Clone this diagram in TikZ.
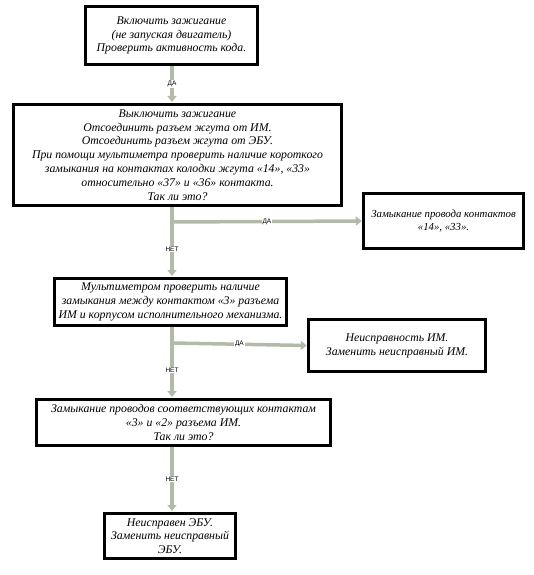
\documentclass[tikz,border=0pt]{standalone}
\usepackage{fontspec}
\setmainfont{Liberation Serif}
\newfontfamily\lblfont{Liberation Sans}
\usetikzlibrary{arrows.meta}
\definecolor{conn}{RGB}{178,186,170}
\tikzset{
  box/.style={draw=black, line width=3.5pt, fill=white, align=center,
    font=\fontsize{11.8}{13.8}\selectfont\itshape, inner sep=0pt},
  conline/.style={draw=conn, line width=3.5pt, -{Triangle[length=6pt,width=9pt]}},
  plainline/.style={draw=conn, line width=3.5pt},
  lbl/.style={font=\lblfont\fontsize{6.5}{7}\selectfont, fill=white, inner sep=1pt}
}
\begin{document}
\begin{tikzpicture}[x=1pt,y=-1pt]
\useasboundingbox (0,0) rectangle (534,575);
\node[box, minimum width=172pt, minimum height=58pt] (b1) at (171.5,35.5)
 {Включить зажигание\\(не запуская двигатель)\\Проверить активность кода.};
\node[box, minimum width=328pt, minimum height=101pt] (b2) at (177.5,155)
 {Выключить зажигание\\Отсоединить разъем жгута от ИМ.\\Отсоединить разъем жгута от ЭБУ.\\При помощи мультиметра проверить наличие короткого\\замыкания на контактах колодки жгута «14», «33»\\относительно «37» и «36» контакта.\\Так ли это?};
\node[box, minimum width=160pt, minimum height=55pt, font=\fontsize{10.8}{13.8}\selectfont\itshape] (b3) at (443.5,221)
 {Замыкание провода контактов\\«14», «33».};
\node[box, minimum width=232pt, minimum height=47pt] (b4) at (170.5,302)
 {Мультиметром проверить наличие\\замыкания между контактом «3» разъема\\ИМ и корпусом исполнительного механизма.};
\node[box, minimum width=177pt, minimum height=52pt] (b5) at (397,345.5)
 {Неисправность ИМ.\\Заменить неисправный ИМ.};
\node[box, minimum width=294pt, minimum height=46pt] (b6) at (183.5,422.5)
 {Замыкание проводов соответствующих контактам\\«3» и «2» разъема ИМ.\\Так ли это?};
\node[box, minimum width=131pt, minimum height=45pt] (b7) at (170,536)
 {Неисправен ЭБУ.\\Заменить неисправный\\ЭБУ.};
% connectors
\coordinate (c1) at (172,222);
\coordinate (c2) at (172,343);
\draw[conline] (172,66) -- node[lbl]{ДА} (172,102);
\draw[plainline] (172,207) -- (c1);
\draw[conline] (c1) -- node[lbl, pos=0.5]{ДА} (b3.west);
\draw[conline] (c1) -- node[lbl]{НЕТ} (172,276);
\draw[plainline] (172,327) -- (c2);
\draw[conline] (c2) -- node[lbl]{ДА} (b5.west);
\draw[conline] (c2) -- node[lbl]{НЕТ} (172,397);
\draw[conline] (172,447) -- node[lbl]{НЕТ} (172,511);
\end{tikzpicture}
\end{document}
